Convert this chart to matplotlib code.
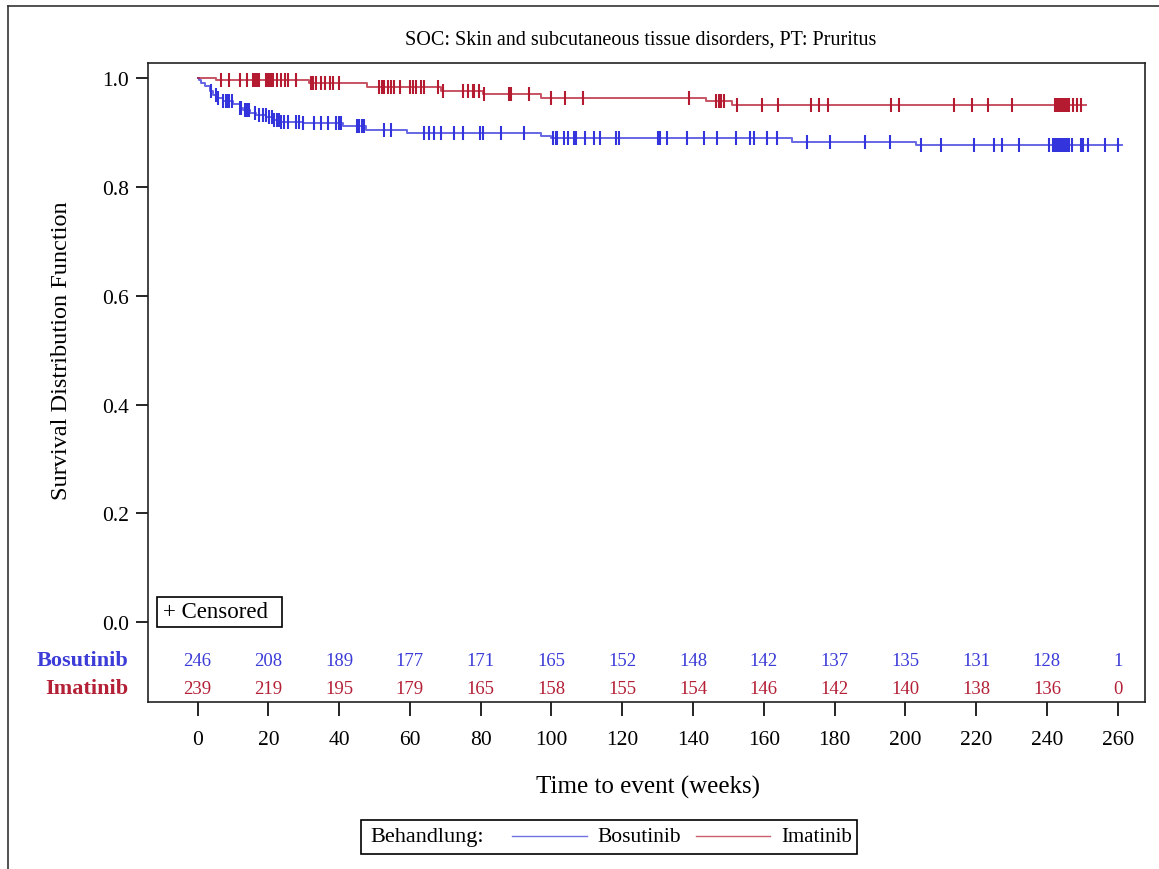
import matplotlib
matplotlib.use("Agg")
import matplotlib.pyplot as plt
import numpy as np
from matplotlib.lines import Line2D
from matplotlib.patches import Rectangle
from matplotlib.transforms import blended_transform_factory

plt.rcParams['font.family'] = ['Liberation Serif', 'DejaVu Serif']

# Kaplan-Meier steps (time in weeks, survival after the event)
bos_event_t = [0.5, 0.9, 2.0, 3.4, 4.3, 5.3, 7.2, 10.0, 11.9, 12.8, 14.7, 16.6,
               19.4, 21.7, 23.1, 29.7, 41.0, 47.6, 59.3, 97.0, 99.8, 168.0, 202.9]
bos_event_s = [0.996, 0.992, 0.985, 0.977, 0.970, 0.964, 0.958, 0.952, 0.946,
               0.941, 0.936, 0.932, 0.928, 0.924, 0.920, 0.917, 0.913, 0.904,
               0.900, 0.894, 0.890, 0.883, 0.877]
bos_end = 261.2

ima_event_t = [5.3, 31.5, 47.9, 68.8, 80.6, 97.0, 143.6, 151.0]
ima_event_s = [0.996, 0.992, 0.983, 0.976, 0.971, 0.963, 0.958, 0.951]
ima_end = 250.9

# censored observations
bos_cens = [3.9, 5.1, 5.7, 7.2, 7.9, 8.6, 9.0, 9.8, 11.9, 12.3, 13.3, 13.9, 14.5,
            16.1, 17.3, 18.4, 19.2, 20.1, 21.1, 21.7, 22.4, 22.9, 23.6, 24.3, 25.5,
            27.9, 28.8, 29.7, 33.0, 34.9, 36.8, 39.1, 39.9, 40.6, 45.0, 45.7, 46.5,
            47.1, 52.8, 54.7, 64.1, 65.5, 66.8, 68.8, 72.6, 74.9, 79.8, 80.7, 85.7,
            92.1, 100.3, 101.2, 101.7, 103.6, 104.6, 106.4, 106.9, 109.5, 111.9,
            113.8, 118.2, 119.0, 130.0, 130.7, 132.6, 138.2, 143.1, 146.7, 152.1,
            156.1, 157.3, 161.0, 163.7, 172.3, 178.7, 188.6, 195.7, 204.3, 210.0,
            219.4, 225.0, 227.2, 232.1, 240.5, 241.7, 242.1, 242.5, 242.9, 243.3,
            243.7, 244.1, 244.5, 244.9, 245.3, 245.7, 246.2, 247.1, 249.5, 250.2,
            251.6, 256.5, 260.0]
ima_cens = [6.7, 8.8, 11.9, 14.0, 15.6, 16.3, 16.7, 17.3, 19.4, 19.8, 20.2, 20.6,
            21.0, 21.3, 22.4, 23.6, 24.6, 25.5, 27.9, 32.1, 32.6, 33.5, 34.9, 36.1,
            37.5, 38.4, 39.9, 51.4, 52.1, 52.8, 53.7, 54.7, 55.6, 57.2, 59.9, 60.8,
            61.8, 63.0, 64.1, 67.9, 69.3, 74.9, 76.3, 77.7, 78.2, 79.6, 81.0, 88.1,
            88.7, 93.7, 99.8, 103.9, 108.8, 138.9, 146.4, 147.2, 147.9, 148.8, 152.4,
            159.4, 164.1, 173.4, 175.6, 178.0, 196.0, 198.2, 213.7, 218.9, 223.4,
            230.2, 242.2, 242.6, 243.0, 243.4, 243.8, 244.2, 244.6, 245.0, 245.4,
            245.8, 246.2, 247.3, 248.4, 249.5]

# numbers at risk
risk_t = [0, 20, 40, 60, 80, 100, 120, 140, 160, 180, 200, 220, 240, 260]
bos_risk = [246, 208, 189, 177, 171, 165, 152, 148, 142, 137, 135, 131, 128, 1]
ima_risk = [239, 219, 195, 179, 165, 158, 155, 154, 146, 142, 140, 138, 136, 0]

BLUE = '#3434dc'
RED = '#b41a30'
BLUE_TXT = '#3c3cd8'
RED_TXT = '#b42036'

W, H = 1159, 870
fx = lambda px: px / W
fy = lambda py: 1 - py / H


def km_curve(et, es, end):
    t = np.concatenate([[0.0], et, [end]])
    s = np.concatenate([[1.0], es, [es[-1]]])
    return t, s


def surv_at(t, et, es):
    idx = np.searchsorted(et, t, side='right')
    s = np.concatenate([[1.0], es])
    return s[idx]


fig = plt.figure(figsize=(W / 100, H / 100), dpi=100)
ax = fig.add_axes([fx(148), fy(703), (1145 - 148) / W, (703 - 64) / H])

for et, es, end, cens, col in [(bos_event_t, bos_event_s, bos_end, bos_cens, BLUE),
                               (ima_event_t, ima_event_s, ima_end, ima_cens, RED)]:
    t, s = km_curve(et, es, end)
    ax.step(t, s, where='post', color=col, lw=1.4, alpha=0.75)
    ax.plot(cens, surv_at(np.array(cens), et, es), '|', color=col, ms=9.5, mew=1.5)

ax.set_xlim(-14.0, 267.7)
ax.set_ylim(-0.1465, 1.028)
ax.set_xticks(risk_t)
ax.set_yticks([0.0, 0.2, 0.4, 0.6, 0.8, 1.0])
ax.set_yticklabels(['0.0', '0.2', '0.4', '0.6', '0.8', '1.0'])
ax.tick_params(axis='x', length=10, width=1.2, pad=10, labelsize=15.5)
ax.tick_params(axis='y', length=8.5, width=1.2, pad=5, labelsize=15.5)
for sp in ax.spines.values():
    sp.set_linewidth(1.2)
    sp.set_color('#222222')

# numbers at risk inside the axes
tr = blended_transform_factory(ax.transData, ax.transAxes)
for t, b, i in zip(risk_t, bos_risk, ima_risk):
    ax.text(t, 0.0657, str(b), transform=tr, ha='center', va='center',
            fontsize=13.5, color=BLUE_TXT)
    ax.text(t, 0.0219, str(i), transform=tr, ha='center', va='center',
            fontsize=13.5, color=RED_TXT)
fig.text(fx(128), fy(661), 'Bosutinib', ha='right', va='center',
         fontsize=16, fontweight='bold', color=BLUE_TXT)
fig.text(fx(128), fy(689), 'Imatinib', ha='right', va='center',
         fontsize=16, fontweight='bold', color=RED_TXT)

# censored note
fig.patches.append(Rectangle((fx(156.7), fy(628.3)), (281.7 - 156.7) / W, 30 / H,
                             transform=fig.transFigure, fill=False, lw=1.2,
                             ec='black'))
fig.text(fx(163), fy(613), '+ Censored', ha='left', va='center', fontsize=16.5)

fig.text(fx(641), fy(40), 'SOC: Skin and subcutaneous tissue disorders, PT: Pruritus',
         ha='center', va='center', fontsize=14.5)
fig.text(fx(62), fy(351), 'Survival Distribution Function', rotation=90,
         ha='center', va='center', fontsize=17.5)
fig.text(fx(648), fy(787), 'Time to event (weeks)', ha='center', va='center',
         fontsize=18)

# group legend
fig.patches.append(Rectangle((fx(360.7), fy(855)), (857.3 - 360.7) / W, 34.3 / H,
                             transform=fig.transFigure, fill=False, lw=1.2,
                             ec='black'))
fig.text(fx(370), fy(838), 'Behandlung:', ha='left', va='center', fontsize=16)
fig.lines.append(Line2D([fx(512), fx(587)], [fy(837)] * 2, transform=fig.transFigure,
                        color=BLUE, lw=1.0, alpha=0.7))
fig.text(fx(597), fy(838), 'Bosutinib', ha='left', va='center', fontsize=15.5)
fig.lines.append(Line2D([fx(696), fx(770)], [fy(837)] * 2, transform=fig.transFigure,
                        color=RED, lw=1.0, alpha=0.7))
fig.text(fx(781), fy(838), 'Imatinib', ha='left', va='center', fontsize=15)

# outer frame (left and top edges)
fig.lines.append(Line2D([fx(8), fx(8)], [0, fy(7)], transform=fig.transFigure,
                        color='#333333', lw=1.2))
fig.lines.append(Line2D([fx(8), 1], [fy(7)] * 2, transform=fig.transFigure,
                        color='#333333', lw=1.2))

fig.savefig('out.png', dpi=100)
